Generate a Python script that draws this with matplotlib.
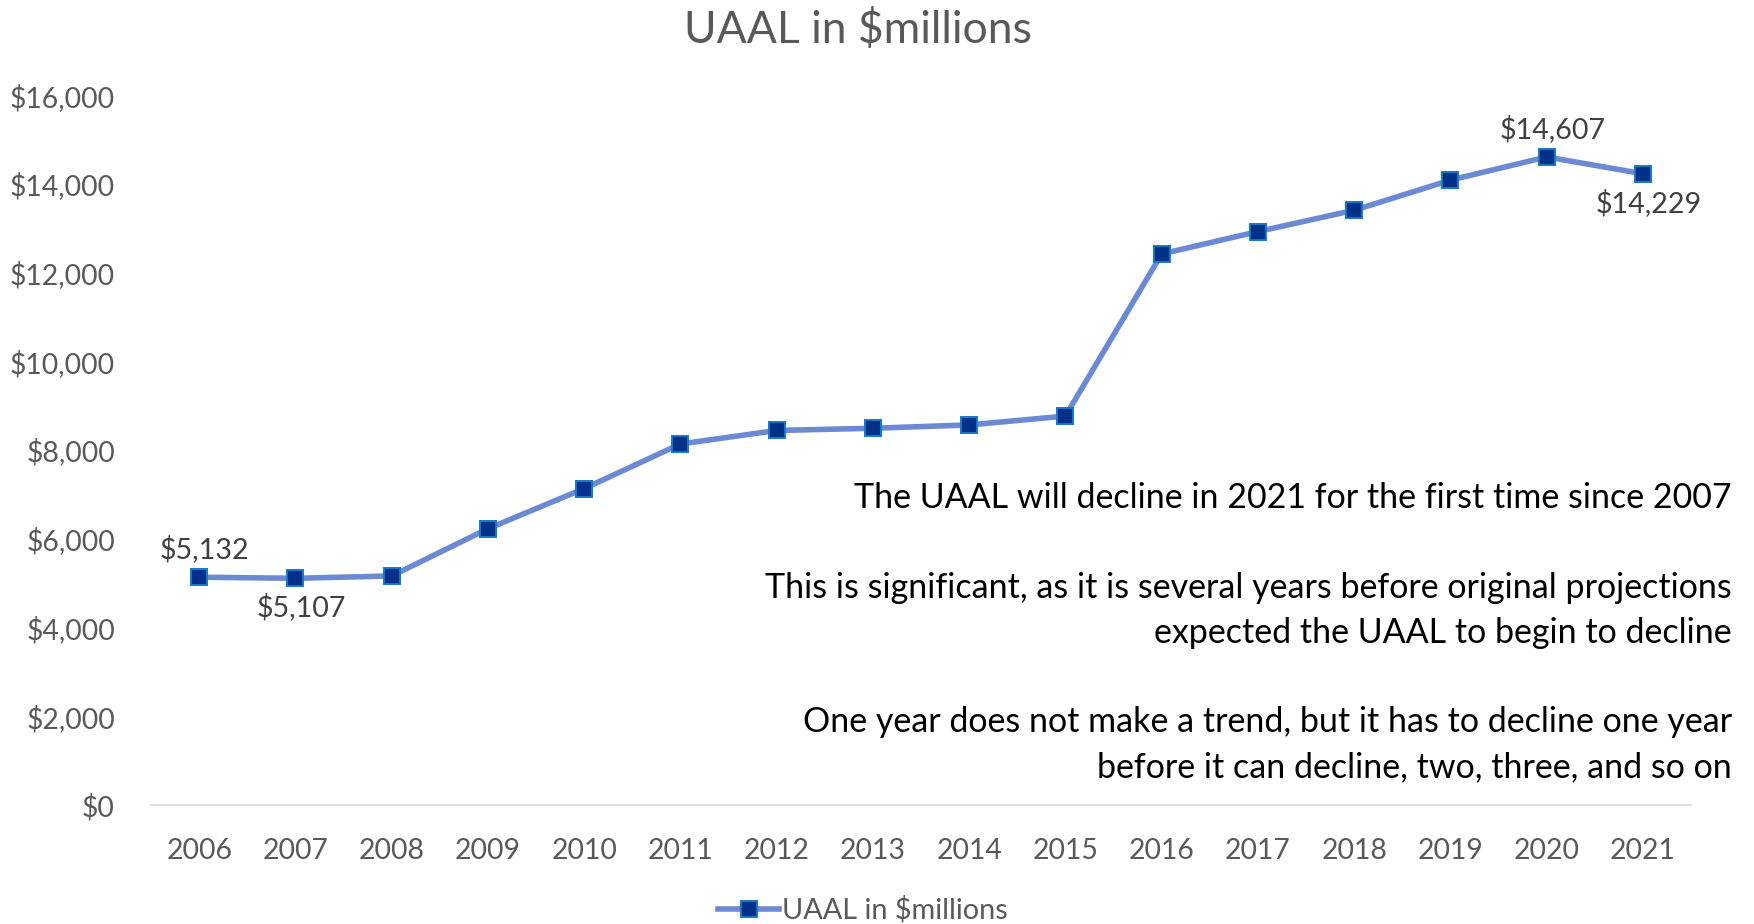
import matplotlib
matplotlib.use("Agg")
import matplotlib.pyplot as plt
from matplotlib.ticker import FuncFormatter

plt.rcParams['font.family'] = ['Lato', 'DejaVu Sans']

years = ['2006', '2007', '2008', '2009', '2010', '2011', '2012', '2013',
         '2014', '2015', '2016', '2017', '2018', '2019', '2020', '2021']
uaal = [5132, 5107, 5160, 6225, 7130, 8135, 8440, 8490,
        8565, 8765, 12420, 12925, 13405, 14085, 14607, 14229]
# which points carry a data label, and whether it goes above or below
labelled = {0: 'above', 1: 'below', 14: 'above', 15: 'below'}

notes = [
    "The UAAL will decline in 2021 for the first time since 2007",
    "",
    "This is significant, as it is several years before original projections",
    "expected the UAAL to begin to decline",
    "",
    "One year does not make a trend, but it has to decline one year",
    "before it can decline, two, three, and so on",
]

grey = '#595959'
line_col = '#6B8AD3'

fig = plt.figure(figsize=(17.54, 9.24), dpi=100)
ax = fig.add_axes([0.0861, 0.129, 0.878, 0.768])

x = range(len(years))
ax.plot(x, uaal, color=line_col, lw=4, marker='s', markersize=11,
        markerfacecolor='#003087', markeredgecolor='#1478C8', markeredgewidth=1.4,
        label='UAAL in $millions', zorder=3)

for i, pos in labelled.items():
    dy = 10 if pos == 'above' else -11
    ax.annotate('${:,}'.format(uaal[i]), (i, uaal[i]), xytext=(4, dy),
                textcoords='offset points', ha='center',
                va='bottom' if pos == 'above' else 'top',
                fontsize=20.6, color='#404040')

ax.set_xlim(-0.5, len(years) - 0.5)
ax.set_ylim(0, 16000)
ax.set_yticks(range(0, 16001, 2000))
ax.yaxis.set_major_formatter(FuncFormatter(lambda v, p: '${:,.0f}'.format(v)))
ax.set_xticks(list(x))
ax.set_xticklabels(years)
ax.tick_params(axis='both', length=0, labelsize=20.4, labelcolor=grey)
ax.tick_params(axis='x', pad=24)
ax.tick_params(axis='y', pad=26)

for s in ['top', 'right', 'left']:
    ax.spines[s].set_visible(False)
ax.spines['bottom'].set_color('#D9D9D9')
ax.spines['bottom'].set_linewidth(1.3)

fig.text(0.489, 0.967, 'UAAL in $millions', ha='center', va='center',
         fontsize=32, color=grey)

fig.text(0.9875, 0.478, '\n'.join(notes), ha='right', va='top',
         fontsize=24.5, color='black', linespacing=1.49)

fig.legend(loc='lower center', bbox_to_anchor=(0.492, -0.028), frameon=False,
           fontsize=20.8, labelcolor=grey, handlelength=2.1, handletextpad=0.1)

fig.savefig('out.png', dpi=100)
